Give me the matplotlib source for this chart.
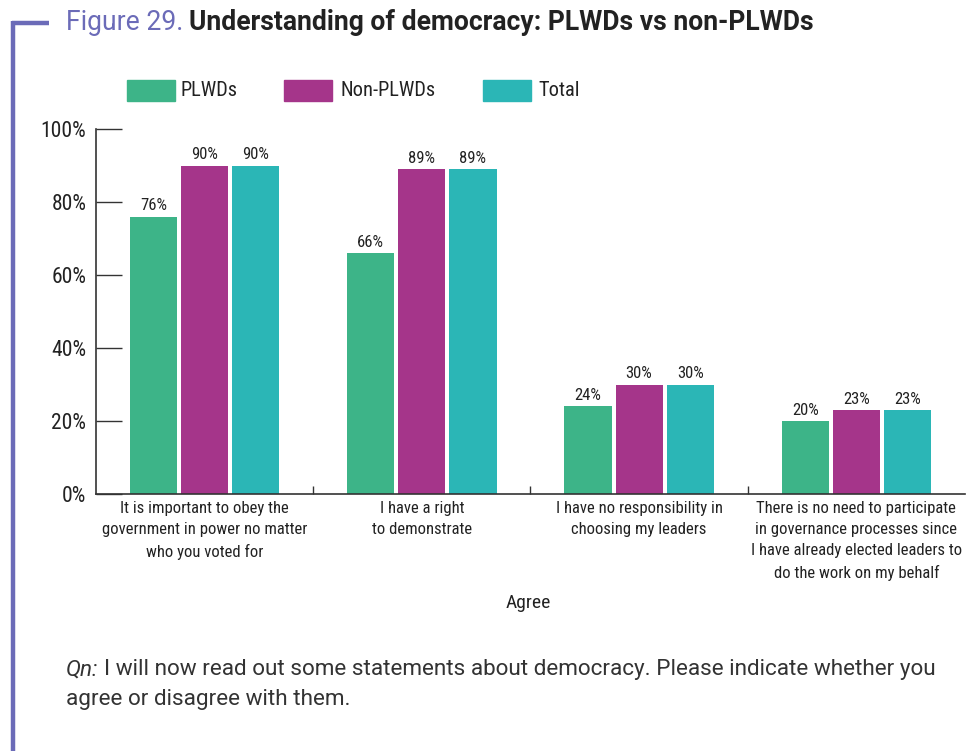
import matplotlib
matplotlib.use("Agg")
import matplotlib.pyplot as plt
from matplotlib import font_manager as fm
from matplotlib.patches import Rectangle
from matplotlib.lines import Line2D
import numpy as np

categories = [
    "It is important to obey the\ngovernment in power no matter\nwho you voted for",
    "I have a right\nto demonstrate",
    "I have no responsibility in\nchoosing my leaders",
    "There is no need to participate\nin governance processes since\nI have already elected leaders to\ndo the work on my behalf",
]
series_names = ["PLWDs", "Non-PLWDs", "Total"]
plwds = [76, 66, 24, 20]
non_plwds = [90, 89, 30, 23]
total = [90, 89, 30, 23]
yticks = [0, 20, 40, 60, 80, 100]
colors = ["#3DB488", "#A5358A", "#2BB6B6"]

avail = {f.name for f in fm.fontManager.ttflist}
cond = None
for name in ["Roboto Condensed", "Liberation Sans Narrow", "Roboto"]:
    if name in avail:
        cond = name
        break
main = "Roboto" if "Roboto" in avail else "DejaVu Sans"

W, H = 978, 751
fig = plt.figure(figsize=(W / 100, H / 100), dpi=100)

def px(x, y):
    return x / W, 1 - y / H

x0, x1, y0, y1 = 96, 965, 494, 129
ax = fig.add_axes([x0 / W, (H - y0) / H, (x1 - x0) / W, (y0 - y1) / H])

n = len(categories)
xs = np.arange(n)
bw = 0.217
gap = 0.018
data = [plwds, non_plwds, total]
for i, (vals, c, nm) in enumerate(zip(data, colors, series_names)):
    off = (i - 1) * (bw + gap)
    ax.bar(xs + off, vals, width=bw, color=c, label=nm)
    for xb, v in zip(xs + off, vals):
        ax.text(xb, v + 0.9, f"{v}%", ha="center", va="bottom", fontsize=12,
                family=cond, color="#222222")

ax.set_xlim(-0.5, n - 0.5)
ax.set_ylim(0, 100)
ax.set_yticks(yticks)
ax.set_yticklabels([f"{t}%" for t in yticks], family=cond, fontsize=15.5, color="#222222")
ax.tick_params(axis="y", direction="in", length=19, width=1, color="#333333", pad=7)
ax.set_xticks(np.arange(0.5, n - 0.5, 1.0))
ax.set_xticklabels([])
ax.tick_params(axis="x", direction="in", length=6, width=1, color="#333333")
for s in ["top", "right"]:
    ax.spines[s].set_visible(False)
for s in ["left", "bottom"]:
    ax.spines[s].set_color("#333333")
    ax.spines[s].set_linewidth(1.2)

for xi, cat in zip(xs, categories):
    ax.text(xi, -1.8, cat, ha="center", va="top", fontsize=12, family=cond,
            color="#222222", linespacing=1.52, transform=ax.transData)

fig.text(*px(528, 603), "Agree", ha="center", va="center", fontsize=14,
         family=cond, color="#222222")

# legend
leg_items = [(127, 181, "PLWDs"), (284, 341, "Non-PLWDs"), (483, 538, "Total")]
for (lx, tx, lab), c in zip(leg_items, colors):
    fig.patches.append(Rectangle(px(lx, 101), 48 / W, 21 / H, transform=fig.transFigure,
                                 color=c))
    fig.text(*px(tx, 91), lab, ha="left", va="center", fontsize=14.7, family=cond,
             color="#222222")

# decorative frame
purple = "#6B6BB8"
fig.lines.append(Line2D([13.5 / W, 13.5 / W], [1 - 21 / H, 0], transform=fig.transFigure,
                        color=purple, lw=3.2, solid_capstyle="butt"))
fig.lines.append(Line2D([12 / W, 49 / W], [1 - 22.5 / H, 1 - 22.5 / H], transform=fig.transFigure,
                        color=purple, lw=3.2, solid_capstyle="butt"))

# title
t1 = fig.text(*px(66, 22), "Figure 29.", ha="left", va="center", fontsize=19.1,
              family=main, color="#6B6BB8")
fig.canvas.draw()
r = fig.canvas.get_renderer()
bb = t1.get_window_extent(r)
fig.text(bb.x1 / W + 6 / W, 1 - 22 / H, "Understanding of democracy: PLWDs vs non-PLWDs",
         ha="left", va="center", fontsize=19.1, family=main, weight="bold", color="#222222")

# footnote
q = fig.text(*px(66, 670), "Qn:", ha="left", va="center", fontsize=16.2, family=main,
             style="italic", color="#333333")
fig.canvas.draw()
bb = q.get_window_extent(r)
fig.text(bb.x1 / W + 6 / W, 1 - 670 / H,
         "I will now read out some statements about democracy. Please indicate whether you",
         ha="left", va="center", fontsize=16.2, family=main, color="#333333")
fig.text(*px(66, 699), "agree or disagree with them.", ha="left", va="center", fontsize=16.2,
         family=main, color="#333333")

fig.savefig("out.png", dpi=100)
